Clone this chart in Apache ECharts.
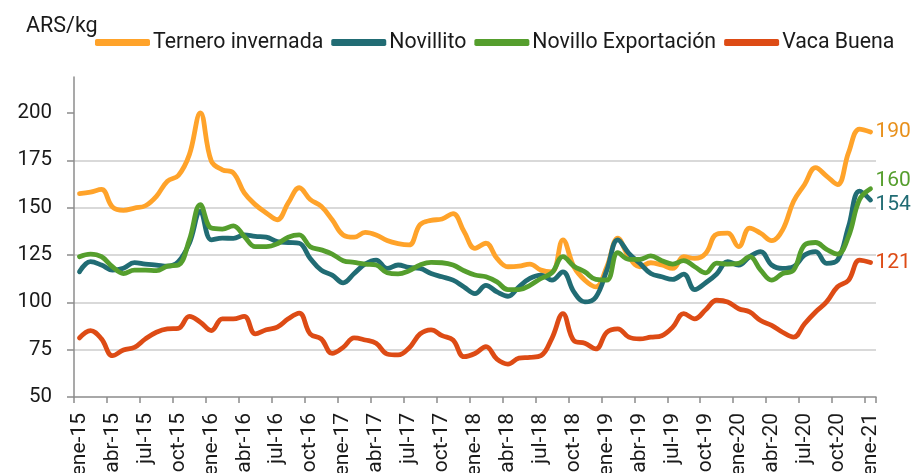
<!DOCTYPE html>
<html>
<head>
<meta charset="utf-8">
<script src="https://cdn.jsdelivr.net/npm/echarts@6/dist/echarts.min.js"></script>
<style>
  html, body { margin: 0; padding: 0; background: #fff; }
  #main { width: 911px; height: 473px; }
</style>
</head>
<body>
<div id="main"></div>
<script>
// meses y años para las categorias (ene-15 ... ene-21)
var monthNames = ['ene', 'feb', 'mar', 'abr', 'may', 'jun', 'jul', 'ago', 'sep', 'oct', 'nov', 'dic'];
var years = ['15', '16', '17', '18', '19', '20', '21'];

// ARS/kg, mensual
var ternero = [157.4, 158.2, 159.6, 150.4, 148.6, 149.8, 151, 156, 164, 167, 178, 200,
  174.6, 170, 168.4, 157.8, 151.6, 147.2, 143.6, 152.5, 160.5, 154.3, 150.7, 143.6,
  135.6, 134.4, 136.9, 135.6, 132.6, 131, 130.3, 141, 143.3, 144, 146.8, 137.4,
  128.5, 131.2, 123.2, 118.8, 119.1, 120.2, 117, 116.1, 133, 118.8, 111.7, 108.2,
  118.8, 133.9, 124.1, 118.8, 120.9, 119.7, 117.9, 124.1, 123.2, 125.9, 136, 136.5,
  129.4, 139.2, 136.5, 132.6, 138.3, 153.4, 162.2, 171.1, 166.7, 162.2, 179.1, 191.5,
  190];
var novillito = [116.1, 121.5, 119.7, 117, 118, 121, 120.2, 119.7, 119.1, 121.5, 131.2, 148,
  133, 133.9, 133.8, 135.6, 134.8, 134.4, 132.1, 131.6, 131.2, 123.2, 117, 114.4,
  110.3, 115.2, 120.2, 122.3, 117.9, 119.7, 118.4, 117.9, 115.2, 113.5, 111.7, 108.1,
  104.6, 109, 105.5, 103.2, 108.2, 112.6, 114.4, 111.7, 116.1, 105.5, 100.2, 102.8,
  117, 133, 125.9, 120.6, 115.2, 113.5, 112.1, 114.9, 106.7, 110.3, 115, 121.5,
  119.7, 124.1, 126.8, 119.7, 117.9, 118.8, 125, 126.8, 120.6, 122.3, 140, 158.7,
  154];
var novilloExp = [124.1, 125.5, 124.1, 118.8, 115.2, 117, 117, 116.7, 119.1, 119.7, 133, 151.6,
  139.2, 138.7, 140.4, 134.8, 129.4, 129.4, 130.9, 134.4, 135.6, 129.4, 127.7, 125.5,
  122, 121.1, 120.2, 119.7, 115.6, 115, 116.7, 119.7, 121.1, 120.9, 119.7, 116.7,
  114.4, 113.5, 110.8, 106.7, 106.7, 109, 112.6, 115.6, 124.1, 119.1, 116.1, 112.1,
  111.7, 126.2, 122.7, 122.7, 124.5, 122, 120.2, 122, 118.8, 115.6, 120.7, 120.2,
  120.6, 124.1, 117, 111.7, 115.2, 117, 130.3, 131.6, 128, 125.5, 134.8, 154.3,
  160];
var vacaBuena = [81.2, 85.1, 80.7, 71.8, 74.8, 76.2, 80.7, 84.2, 86, 86.3, 92.6, 89.5,
  85.1, 91.3, 91.3, 92.6, 83.3, 85.5, 86.9, 91.3, 94.3, 83.3, 80.7, 73,
  76.2, 81.2, 80.1, 78.4, 72.7, 72.2, 75.9, 83.3, 85.5, 82.4, 80.1, 71.3,
  73, 76.6, 70, 67.4, 70.5, 70.9, 71.8, 81, 94, 79.8, 78.4, 75.4,
  84.2, 86, 81.6, 80.7, 81.6, 82.4, 86.9, 94, 91.3, 96.1, 101.1, 100.2,
  96.6, 94.9, 90.4, 87.8, 84.2, 81.6, 88.7, 94.9, 100.2, 108.2, 111.7, 122.3,
  121];
var yTicks = [50, 75, 100, 125, 150, 175, 200];

var categories = [];
years.forEach(function (y) {
  monthNames.forEach(function (m) {
    if (categories.length < ternero.length) categories.push(m + '-' + y);
  });
});

var fontFam = 'Roboto, "Noto Sans", sans-serif';

function serie(name, data, color, labelColor, dy) {
  return {
    name: name,
    type: 'line',
    data: data,
    smooth: 0.4,
    symbol: 'none',
    lineStyle: { color: color, width: 4.8, cap: 'round', join: 'round' },
    itemStyle: { color: color },
    endLabel: {
      show: true,
      distance: 5,
      offset: [0, dy],
      color: labelColor,
      fontFamily: fontFam,
      fontSize: 21,
      formatter: function (p) { return Math.round(p.value); }
    }
  };
}

var myChart = echarts.init(document.getElementById('main'));
myChart.setOption({
  animation: false,
  backgroundColor: '#ffffff',
  title: {
    text: 'ARS/kg',
    left: 21,
    top: 11,
    textStyle: { fontFamily: fontFam, fontSize: 21.5, fontWeight: 'normal', color: '#1a1a1a' }
  },
  legend: {
    left: 90,
    top: 27,
    itemWidth: 55,
    itemHeight: 7,
    itemGap: 8,
    icon: 'roundRect',
    textStyle: { fontFamily: fontFam, fontSize: 21.3, color: '#1a1a1a', padding: [0, 0, 0, -2] },
    data: ['Ternero invernada', 'Novillito', 'Novillo Exportación', 'Vaca Buena']
  },
  grid: { left: 74, right: 35, top: 77, bottom: 76, containLabel: false, outerBoundsMode: 'none' },
  xAxis: {
    type: 'category',
    data: categories,
    boundaryGap: true,
    axisLine: { lineStyle: { color: '#8c8c8c', width: 1.5 } },
    axisTick: { show: true, interval: 2, length: 6, lineStyle: { color: '#8c8c8c', width: 1.5 } },
    axisLabel: {
      interval: 2,
      rotate: 90,
      margin: 16,
      fontFamily: fontFam,
      fontSize: 21,
      color: '#1a1a1a'
    },
    splitLine: { show: false }
  },
  yAxis: {
    type: 'value',
    min: 50,
    max: 219,
    interval: 25,
    axisLine: { show: true, lineStyle: { color: '#8c8c8c', width: 1.5 } },
    axisTick: { show: true, length: 7, customValues: yTicks, lineStyle: { color: '#8c8c8c', width: 1.5 } },
    axisLabel: {
      customValues: yTicks,
      margin: 22,
      fontFamily: fontFam,
      fontSize: 20.5,
      color: '#1a1a1a'
    },
    splitLine: { show: true, showMaxLine: false, showMinLine: false, lineStyle: { color: '#d9d9d9', width: 2 } }
  },
  series: [
    serie('Ternero invernada', ternero, '#FFA32A', '#E8901B', 0),
    serie('Novillito', novillito, '#216C74', '#216C74', 5),
    serie('Novillo Exportación', novilloExp, '#559E2D', '#559E2D', -8),
    serie('Vaca Buena', vacaBuena, '#DD4B15', '#DD4B15', 0)
  ]
});
</script>
</body>
</html>
